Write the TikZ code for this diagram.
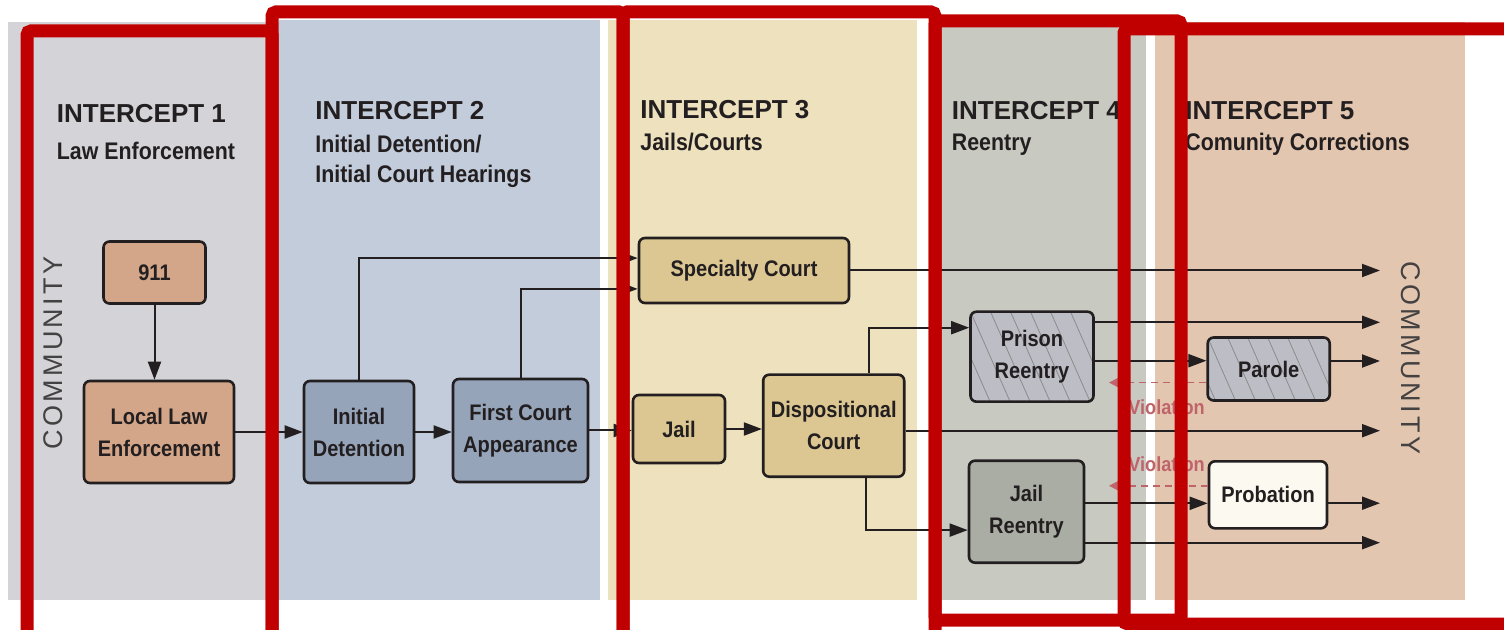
\documentclass[tikz,border=0pt]{standalone}
\usepackage{fontspec}
\setmainfont{Liberation Sans}
\newfontfamily\narrowfont{Liberation Sans}[FakeStretch=0.89]
\newfontfamily\spacedfont{Liberation Sans}[LetterSpace=12]
\usetikzlibrary{arrows.meta}
\definecolor{ink}{HTML}{231F20}
\definecolor{redline}{HTML}{C00000}
\definecolor{lawgray}{HTML}{D3D3D8}
\definecolor{detblue}{HTML}{C2CCDA}
\definecolor{jailtan}{HTML}{EEE1BE}
\definecolor{reentgray}{HTML}{C8C9C1}
\definecolor{corrpeach}{HTML}{E3C6AF}
\definecolor{copperbox}{HTML}{D4A689}
\definecolor{slatebox}{HTML}{95A4B9}
\definecolor{khakibox}{HTML}{DCC792}
\definecolor{hatchbox}{HTML}{BCBDC5}
\definecolor{sagebox}{HTML}{A9ADA4}
\definecolor{creambox}{HTML}{FBF9F0}
\definecolor{violred}{HTML}{C0646C}

\begin{document}
\begin{tikzpicture}[x=0.5pt,y=-0.5pt,
  box/.style={draw=ink, line width=1.3pt, rounded corners=3pt, align=center, text=ink, inner sep=0pt,
    font=\narrowfont\bfseries\fontsize{11.25}{16}\selectfont},
  hatched/.style={path picture={
    \foreach \k in {-3,...,7}
      \draw[draw=black!45, line width=0.4pt] ([xshift=\k*10pt]path picture bounding box.north west) -- ++(22pt,-50pt);}},
  flow/.style={draw=ink, line width=1pt, -{Triangle[length=9pt,width=6.5pt]}},
  violarrow/.style={draw=violred, line width=0.75pt, dash pattern=on 3.5pt off 2.5pt, -{Triangle[length=4.5pt,width=4.5pt]}},
  violtext/.style={anchor=base west, inner sep=0pt, text=violred, font=\narrowfont\bfseries\fontsize{10.2}{12}\selectfont},
  title/.style={anchor=base west, inner sep=0pt, text=ink, font=\bfseries\fontsize{13}{15}\selectfont},
  sub/.style={anchor=base west, inner sep=0pt, text=ink, font=\narrowfont\bfseries\fontsize{12}{15}\selectfont},
  commun/.style={inner sep=0pt, text=ink!85, font=\spacedfont\fontsize{13.5}{15}\selectfont},
  redframe/.style={draw=redline, line width=6.5pt, rounded corners=2pt}]
  \useasboundingbox (0,0) rectangle (1504,630);
  \clip (0,0) rectangle (1504,630);

  \fill[lawgray] (8,22) rectangle (279,600);
  \fill[detblue] (279,20) rectangle (600,600);
  \fill[jailtan] (608,20) rectangle (917,600);
  \fill[reentgray] (929,22) rectangle (1146,600);
  \fill[corrpeach] (1155,22) rectangle (1465,600);

  \node[title] (t1) at (56.5,122.7) {INTERCEPT 1};
  \node[sub] (s1) at (56.5,160) {Law Enforcement};
  \node[title] (t2) at (315,119.3) {INTERCEPT 2};
  \node[sub] (s2a) at (315,152.3) {Initial Detention/};
  \node[sub] (s2b) at (315,182.7) {Initial Court Hearings};
  \node[title] (t3) at (640,118.3) {INTERCEPT 3};
  \node[sub] (s3) at (640,151) {Jails/Courts};
  \node[title] (t4) at (951.5,119.3) {INTERCEPT 4};
  \node[sub] (s4) at (951.5,151) {Reentry};
  \node[title] (t5) at (1185,119.3) {INTERCEPT 5};
  \node[sub] (s5) at (1185,151) {Comunity Corrections};

  \node[commun, rotate=90] (commL) at (53,353) {COMMUNITY};
  \node[commun, rotate=-90] (commR) at (1411,358) {COMMUNITY};

  \node[box, fill=copperbox, minimum width=51pt, minimum height=31pt] (n911) at (154.5,272.5) {911};
  \node[box, fill=copperbox, minimum width=75pt, minimum height=51pt] (lle) at (159,432) {Local Law\\Enforcement};
  \node[box, fill=slatebox, minimum width=55pt, minimum height=51pt] (idet) at (359,432) {Initial\\Detention};
  \node[box, fill=slatebox, minimum width=67.5pt, minimum height=51.5pt] (fca) at (520.5,430.5) {First Court\\Appearance};
  \node[box, fill=khakibox, minimum width=46pt, minimum height=34pt] (jail) at (679,429) {Jail};
  \node[box, fill=khakibox, minimum width=70.5pt, minimum height=51pt] (dcourt) at (833.7,425.7) {Dispositional\\Court};
  \node[box, fill=khakibox, minimum width=105pt, minimum height=32.5pt] (spec) at (744,270.5) {Specialty Court};
  \node[box, hatched, fill=hatchbox, minimum width=61.5pt, minimum height=45pt] (prison) at (1032,356.7) {Prison\\Reentry};
  \node[box, hatched, fill=hatchbox, minimum width=61pt, minimum height=31.5pt] (parole) at (1268.7,369) {Parole};
  \node[box, fill=sagebox, minimum width=57.5pt, minimum height=51pt] (jreentry) at (1026.5,511.7) {Jail\\Reentry};
  \node[box, fill=creambox, minimum width=59pt, minimum height=33.5pt] (probation) at (1268,494.8) {Probation};

  \coordinate (rim) at (1380,0);
  \coordinate (viol) at (1109,0);

  \draw[flow] (n911.south) -- (n911.south |- lle.north);
  \draw[flow] (lle) -- (idet);
  \draw[flow] (idet.east) -- (idet.east -| fca.west);
  \draw[flow] (fca.east) -- (fca.east -| jail.west);
  \draw[flow] (jail.east) -- (jail.east -| dcourt.west);
  \draw[flow] (idet.north) |- ([yshift=6.2pt]spec.west);
  \draw[flow] (fca.north) |- ([yshift=-9.2pt]spec.west);
  \draw[flow] (spec.east) -- (spec.east -| rim);
  \draw[flow] ([xshift=17.6pt]dcourt.north) |- ([yshift=14.5pt]prison.west);
  \draw[flow] ([yshift=17.2pt]prison.east) -- ([yshift=17.2pt]prison.east -| rim);
  \draw[flow] ([yshift=-2pt]prison.east) -- ([yshift=-2pt]prison.east -| parole.west);
  \draw[flow] ([yshift=4pt]parole.east) -- ([yshift=4pt]parole.east -| rim);
  \draw[violarrow] ([yshift=-6.8pt]parole.west) -- ([yshift=-6.8pt]parole.west -| viol);
  \draw[flow] ([yshift=-2.5pt]dcourt.east) -- ([yshift=-2.5pt]dcourt.east -| rim);
  \draw[flow] ([xshift=16.2pt]dcourt.south) |- ([yshift=-9.2pt]jreentry.west);
  \draw[flow] ([yshift=4.2pt]jreentry.east) -- ([yshift=4.2pt]jreentry.east -| probation.west);
  \draw[flow] ([yshift=-4.2pt]probation.east) -- ([yshift=-4.2pt]probation.east -| rim);
  \draw[flow] ([yshift=-15.5pt]jreentry.east) -- ([yshift=-15.5pt]jreentry.east -| rim);
  \draw[violarrow] ([yshift=4.5pt]probation.west) -- ([yshift=4.5pt]probation.west -| viol);

  \node[violtext] (viol1) at (1128,415) {Violation};
  \node[violtext] (viol2) at (1128,472) {Violation};

  \draw[redframe] (27,31) rectangle (272,640);
  \draw[redframe] (272,12) rectangle (623,640);
  \draw[redframe] (623,12) rectangle (935,640);
  \draw[redframe] (935,21) rectangle (1181,620);
  \draw[redframe] (1124,29) rectangle (1530,624);
\end{tikzpicture}
\end{document}
